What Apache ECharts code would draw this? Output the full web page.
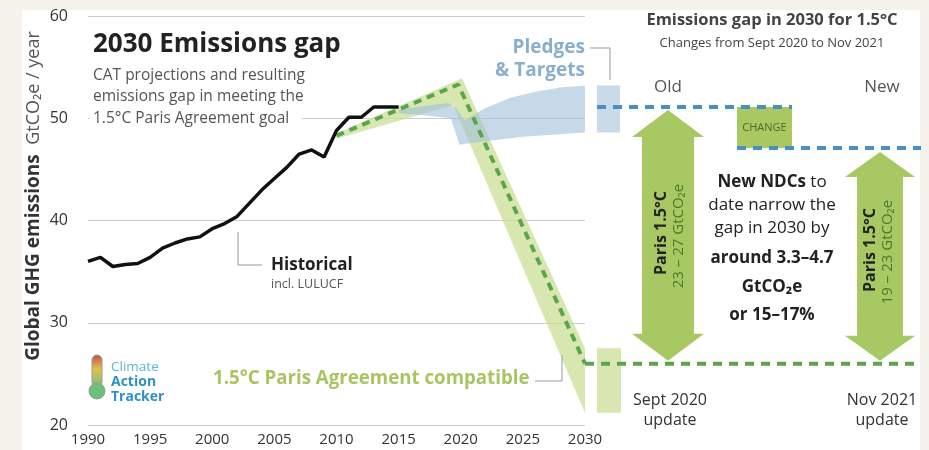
<!DOCTYPE html>
<html>
<head>
<meta charset="utf-8">
<script src="https://cdn.jsdelivr.net/npm/echarts@6/dist/echarts.min.js"></script>
<style>
  html, body { margin: 0; padding: 0; background: #f5f1eb; }
  #panel { position: absolute; left: 22px; top: 10px; width: 898px; height: 440px; background: #fff; }
  #main { position: absolute; left: 0; top: 0; width: 929px; height: 450px; }
</style>
</head>
<body>
<div id="panel"></div>
<div id="main"></div>
<script>
// historical emissions incl. LULUCF (GtCO2e / year)
const years = [1990, 1991, 1992, 1993, 1994, 1995, 1996, 1997, 1998, 1999, 2000, 2001, 2002,
  2003, 2004, 2005, 2006, 2007, 2008, 2009, 2010, 2011, 2012, 2013, 2014, 2015];
const historical = [36.0, 36.4, 35.5, 35.7, 35.8, 36.4, 37.3, 37.8, 38.2, 38.4, 39.2, 39.7, 40.4,
  41.7, 43.0, 44.1, 45.2, 46.5, 46.9, 46.2, 48.8, 50.1, 50.1, 51.1, 51.1, 51.1];

// 1.5C compatible range and median pathway
const greenUpper = [[2010, 48.5], [2020.1, 53.9], [2030, 27.5]];
const greenLower = [[2010, 48.0], [2019.4, 51.3], [2030, 21.2]];
const greenMedian = [[2010, 48.3], [2019.8, 53.3], [2030, 26.0]];

// pledges & targets range
const blueUpper = [[2015, 50.8], [2017, 51.2], [2019, 51.5], [2019.6, 51.0], [2020.3, 49.8],
  [2021, 50.3], [2022, 51.0], [2024, 52.0], [2026, 52.6], [2028, 53.0], [2030, 53.2]];
const blueLower = [[2015, 50.5], [2017, 50.3], [2019.2, 50.0], [2019.9, 47.4], [2021, 47.6],
  [2025, 48.2], [2030, 48.6]];

// 2030 levels on the right panel
const oldPledge = 51.1;
const newPledge = 47.1;
const paris15 = 26.0;

const FONT = '"Open Sans", "Noto Sans", sans-serif';

function outline(upper, lower) {
  return upper.concat(lower.slice().reverse());
}
const greenBand = outline(greenUpper, greenLower);
const blueBand = outline(blueUpper, blueLower);

function bandSeries(points, fill, z) {
  return {
    type: 'custom',
    z: z,
    silent: true,
    data: points,
    renderItem: function (params, api) {
      if (params.dataIndex !== 0) return null;
      return {
        type: 'polygon',
        shape: { points: points.map(p => api.coord(p)) },
        style: { fill: fill }
      };
    }
  };
}

const chart = echarts.init(document.getElementById('main'));
chart.setOption({
  animation: false,
  grid: { left: 88, right: 344, top: 16, bottom: 25 },
  xAxis: {
    type: 'value', min: 1990, max: 2030, interval: 5,
    axisLine: { show: false }, axisTick: { show: false }, splitLine: { show: false },
    axisLabel: { color: '#333', fontSize: 15, fontFamily: FONT, margin: 7, formatter: v => String(v) }
  },
  yAxis: {
    type: 'value', min: 20, max: 60, interval: 10,
    axisLine: { show: false }, axisTick: { show: false },
    splitLine: { lineStyle: { color: '#cccccc', width: 1 } },
    axisLabel: { color: '#333', fontSize: 16, fontFamily: FONT, margin: 20 }
  },
  series: [
    bandSeries(greenBand, 'rgba(203,222,150,0.75)', 2),
    bandSeries(blueBand, 'rgba(160,192,218,0.6)', 3),
    {
      type: 'line', z: 4, symbol: 'none', silent: true,
      data: greenMedian,
      lineStyle: { color: '#5aa64a', width: 4, type: [8, 6] }
    },
    {
      type: 'line', z: 5, symbol: 'none', silent: true,
      data: years.map((y, i) => [y, historical[i]]),
      lineStyle: { color: '#111', width: 3.5 }
    }
  ]
});

const px = (x, y) => chart.convertToPixel({ gridIndex: 0 }, [x, y]);
const py = v => chart.convertToPixel({ yAxisIndex: 0 }, v);
const x2030 = px(2030, 20)[0];

function txt(x, y, text, size, color, opts) {
  return Object.assign({
    type: 'text', x: x, y: y, z: 100,
    style: Object.assign({
      text: text, fontSize: size, fontFamily: FONT, fill: color,
      align: 'left', verticalAlign: 'middle'
    }, (opts && opts.style) || {})
  }, (opts && opts.el) || {});
}
function line(points, color, width, dash) {
  return {
    type: 'polyline', z: 100, shape: { points: points },
    style: { stroke: color, lineWidth: width, lineDash: dash || null, fill: null }
  };
}
function rect(x, y, w, h, fill) {
  return { type: 'rect', z: 90, shape: { x: x, y: y, width: w, height: h }, style: { fill: fill } };
}
function arrow(cx, top, bottom, headW, shaftW, headH) {
  return {
    type: 'polygon', z: 95,
    shape: { points: [[cx, top], [cx + headW, top + headH], [cx + shaftW, top + headH],
      [cx + shaftW, bottom - headH], [cx + headW, bottom - headH], [cx, bottom],
      [cx - headW, bottom - headH], [cx - shaftW, bottom - headH], [cx - shaftW, top + headH],
      [cx - headW, top + headH]] },
    style: { fill: '#a7c862' }
  };
}

const yOld = py(oldPledge), yNew = py(newPledge), yParis = py(paris15);
const bold = { fontWeight: 'bold' };
const rot = Math.PI / 2;

chart.setOption({
  graphic: [
    // axis name
    txt(34, 196, '{b|Global GHG emissions}{r|  GtCO₂e / year}', 18, '#333', {
      el: { rotation: rot },
      style: { align: 'center', rich: {
        b: { fontWeight: 'bold', fontSize: 19, fontFamily: FONT, fill: '#333' },
        r: { fontSize: 18, fontFamily: FONT, fill: '#555' } } }
    }),
    // titles
    rect(90, 64, 212, 64, '#fff'),
    txt(93, 45, '2030 Emissions gap', 26, '#222', { style: bold }),
    txt(93, 76, 'CAT projections and resulting', 15.5, '#555'),
    txt(93, 97, 'emissions gap in meeting the', 15.5, '#555'),
    txt(93, 119, '1.5°C Paris Agreement goal', 15.5, '#555'),
    // historical label
    line([[238, 232], [238, 265], [262, 265]], '#999', 1),
    txt(271, 265, 'Historical', 17, '#222', { style: bold }),
    txt(271, 284, 'incl. LULUCF', 12.5, '#555'),
    // pledges label
    txt(585, 48, 'Pledges', 19, '#88afd0', { style: { fontWeight: 'bold', align: 'right' } }),
    txt(585, 71, '& Targets', 19, '#88afd0', { style: { fontWeight: 'bold', align: 'right' } }),
    line([[590, 48], [610, 48], [610, 80]], '#999', 1),
    // 1.5C label
    txt(213, 379, '1.5°C Paris Agreement compatible', 18.7, '#a9c562', { style: bold }),
    line([[535, 381], [562, 381], [562, 355]], '#999', 1),
    // Climate Action Tracker logo
    { type: 'rect', z: 100, shape: { x: 92, y: 355, width: 10, height: 32, r: 5 },
      style: { stroke: '#999', lineWidth: 1,
        fill: new echarts.graphic.LinearGradient(0, 0, 0, 1, [
          { offset: 0, color: '#c0504d' }, { offset: 0.45, color: '#e3c14a' }, { offset: 1, color: '#6cc07a' }]) } },
    { type: 'circle', z: 100, shape: { cx: 97, cy: 391, r: 8 }, style: { fill: '#6cc07a', stroke: '#999', lineWidth: 1 } },
    txt(111, 367, 'Climate', 13.5, '#5bb6dc'),
    txt(111, 382, 'Action', 14, '#2e90c8', { style: bold }),
    txt(111, 397, 'Tracker', 14, '#2e90c8', { style: bold }),

    // right panel
    txt(772, 20, 'Emissions gap in 2030 for 1.5°C', 16.5, '#444', { style: { fontWeight: 'bold', align: 'center' } }),
    txt(772, 43, 'Changes from Sept 2020 to Nov 2021', 13, '#444', { style: { align: 'center' } }),
    txt(668, 87, 'Old', 17, '#555', { style: { align: 'center' } }),
    txt(882, 87, 'New', 17, '#555', { style: { align: 'center' } }),
    rect(597, py(blueUpper[blueUpper.length - 1][1]), 23,
      py(blueLower[blueLower.length - 1][1]) - py(blueUpper[blueUpper.length - 1][1]), '#c9dae9'),
    rect(597, py(greenUpper[2][1]), 24, py(greenLower[2][1]) - py(greenUpper[2][1]), '#d8e6b1'),
    rect(737, yOld, 55, yNew - yOld, '#a9c862'),
    txt(764.5, (yOld + yNew) / 2, 'CHANGE', 11, '#4d6b2e', { style: { align: 'center' } }),
    line([[597, yOld], [792, yOld]], '#4a8fc2', 4, [9, 7]),
    line([[737, yNew], [921, yNew]], '#4a8fc2', 4, [9, 7]),
    line([[x2030, yParis], [921, yParis]], '#5aa64a', 4, [9, 7]),
    arrow(668, yOld + 3, yParis - 3, 36, 26, 27),
    arrow(880, yNew + 4, yParis - 3, 35, 23, 25),
    txt(661, 233, 'Paris 1.5°C', 16, '#222', { el: { rotation: rot }, style: { fontWeight: 'bold', align: 'center' } }),
    txt(679, 236, '23 – 27 GtCO₂e', 15, '#4a7a2a', { el: { rotation: rot }, style: { align: 'center' } }),
    txt(870, 250, 'Paris 1.5°C', 16, '#222', { el: { rotation: rot }, style: { fontWeight: 'bold', align: 'center' } }),
    txt(888, 252, '19 – 23 GtCO₂e', 15, '#4a7a2a', { el: { rotation: rot }, style: { align: 'center' } }),
    txt(772, 182, '{b|New NDCs} to', 17, '#222', { style: { align: 'center', rich: { b: { fontWeight: 'bold', fontSize: 17, fontFamily: FONT, fill: '#222' } } } }),
    txt(772, 205, 'date narrow the', 17, '#222', { style: { align: 'center' } }),
    txt(772, 228, 'gap in 2030 by', 17, '#222', { style: { align: 'center' } }),
    txt(772, 258, 'around 3.3–4.7', 17, '#222', { style: { fontWeight: 'bold', align: 'center' } }),
    txt(772, 287, 'GtCO₂e', 17, '#222', { style: { fontWeight: 'bold', align: 'center' } }),
    txt(772, 315, 'or 15–17%', 17, '#222', { style: { fontWeight: 'bold', align: 'center' } }),
    txt(670, 400, 'Sept 2020', 16, '#333', { style: { align: 'center' } }),
    txt(670, 420, 'update', 16, '#333', { style: { align: 'center' } }),
    txt(882, 400, 'Nov 2021', 16, '#333', { style: { align: 'center' } }),
    txt(882, 420, 'update', 16, '#333', { style: { align: 'center' } })
  ]
});
</script>
</body>
</html>
